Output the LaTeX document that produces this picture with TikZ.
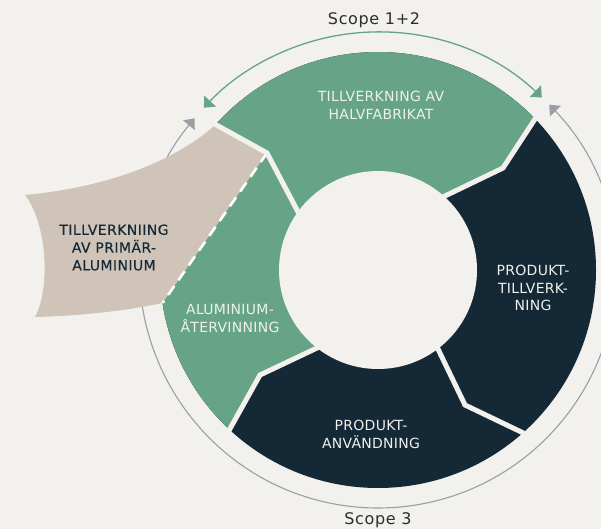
\documentclass[tikz,border=0pt]{standalone}
\usepackage{fontspec}
\setmainfont{DejaVu Sans}
\newfontfamily\capsfont[LetterSpace=2]{DejaVu Sans}
\newfontfamily\capsboldfont[LetterSpace=3,FakeBold=0.3]{DejaVu Sans}
\newfontfamily\scopefont[LetterSpace=4]{DejaVu Sans}
\usetikzlibrary{calc,arrows.meta}
\definecolor{bg}{HTML}{F2F1ED}
\definecolor{sgreen}{HTML}{66A387}
\definecolor{navy}{HTML}{152836}
\definecolor{tanc}{HTML}{CFC4B7}
\definecolor{grayarc}{HTML}{9C9EA5}
\definecolor{lighttext}{HTML}{EEF0EC}
\definecolor{scopetext}{HTML}{2D2D2D}
\begin{document}
\begin{tikzpicture}[x=1pt,y=-1pt,
  gapline/.style={draw=bg,line width=5pt,line join=miter},
  seglabel/.style={text=lighttext,font=\capsfont\fontsize{14}{17.8}\selectfont,align=center,inner sep=0pt},
  tanlabel/.style={text=navy,font=\capsboldfont\fontsize{14}{17.8}\selectfont,align=center,inner sep=0pt},
  scopelabel/.style={text=scopetext,font=\scopefont\fontsize{16}{20}\selectfont,inner sep=0pt},
  greenarc/.style={draw=sgreen,line width=1.3pt,>={Triangle[length=9pt,width=16pt]},<->},
  grayarcst/.style={draw=grayarc,line width=1.1pt,>={Triangle[length=9pt,width=15pt]},<->},
  dashline/.style={draw=white,line width=2.6pt,dash pattern=on 11pt off 7pt}]
\useasboundingbox (0,0) rectangle (601,529);
\fill[bg] (0,0) rectangle (601,529);
% geometry
\coordinate (C) at (378,270);
\coordinate (TRo) at ($(C)+(-44.4:218)$);
\coordinate (BRo) at ($(C)+(47.4:218)$);
\coordinate (BLo) at ($(C)+(132.4:218)$);
\coordinate (TLo) at ($(C)+(-138.4:218)$);
\coordinate (D)   at ($(C)+(171.3:218)$);
\coordinate (TRk) at (503,168);
\coordinate (BRk) at (465,405);
\coordinate (BLk) at (260,375);
\coordinate (TLk) at (267,153);
\coordinate (TRi) at (447,195);
\coordinate (BRi) at (438,349);
\coordinate (BLi) at (317,348);
\coordinate (TLi) at (297,210);
% ring
\fill[navy] (C) circle[radius=218];
\fill[sgreen] (C) -- (TLi) -- (TLk) -- (TLo) arc[start angle=-138.4,end angle=-44.4,radius=218] -- (TRk) -- (TRi) -- cycle;
\fill[sgreen] (C) -- (BLi) -- (BLk) -- (BLo) arc[start angle=132.4,end angle=221.6,radius=218] -- (TLk) -- (TLi) -- cycle;
% scope arcs
\draw[grayarcst] ($(C)+(-44:238)$) arc[start angle=-44,end angle=219.6,radius=238];
\draw[greenarc] ($(C)+(-46.5:238)$) arc[start angle=-46.5,end angle=-137,radius=238];
% primary aluminium shape
\fill[tanc] (TLo) -- (TLk) -- (D) .. controls (120,312) and (75,316) .. (35,317)
  .. controls (50,290) and (48,225) .. (25,195)
  .. controls (100,188) and (170,165) .. (TLo) -- cycle;
\draw[dashline] (TLk) -- (D);
% gaps
\draw[gapline] ($(C)!1.04!(TRo)$) -- (TRk) -- ($(TRk)!1.15!(TRi)$);
\draw[gapline] ($(C)!1.04!(BRo)$) -- (BRk) -- ($(BRk)!1.15!(BRi)$);
\draw[gapline] ($(C)!1.04!(BLo)$) -- (BLk) -- ($(BLk)!1.15!(BLi)$);
\draw[gapline] ($(C)!1.02!(TLo)$) -- (TLk) -- ($(TLk)!1.15!(TLi)$);
\fill[bg] (C) circle[radius=99];
% labels
\node[seglabel] (halv) at (381,105) {TILLVERKNING AV\\HALVFABRIKAT};
\node[seglabel] (ptill) at (533,288) {PRODUKT-\\TILLVERK-\\NING};
\node[seglabel] (panv) at (371,434.5) {PRODUKT-\\ANVÄNDNING};
\node[seglabel] (ater) at (230,318.5) {ALUMINIUM-\\ÅTERVINNING};
\node[tanlabel] (prim) at (114,247.5) {TILLVERKNIING\\AV PRIMÄR-\\ALUMINIUM};
\node[scopelabel] (s12) at (374,20) {Scope 1+2};
\node[scopelabel] (s3) at (378,520) {Scope 3};
\end{tikzpicture}
\end{document}
